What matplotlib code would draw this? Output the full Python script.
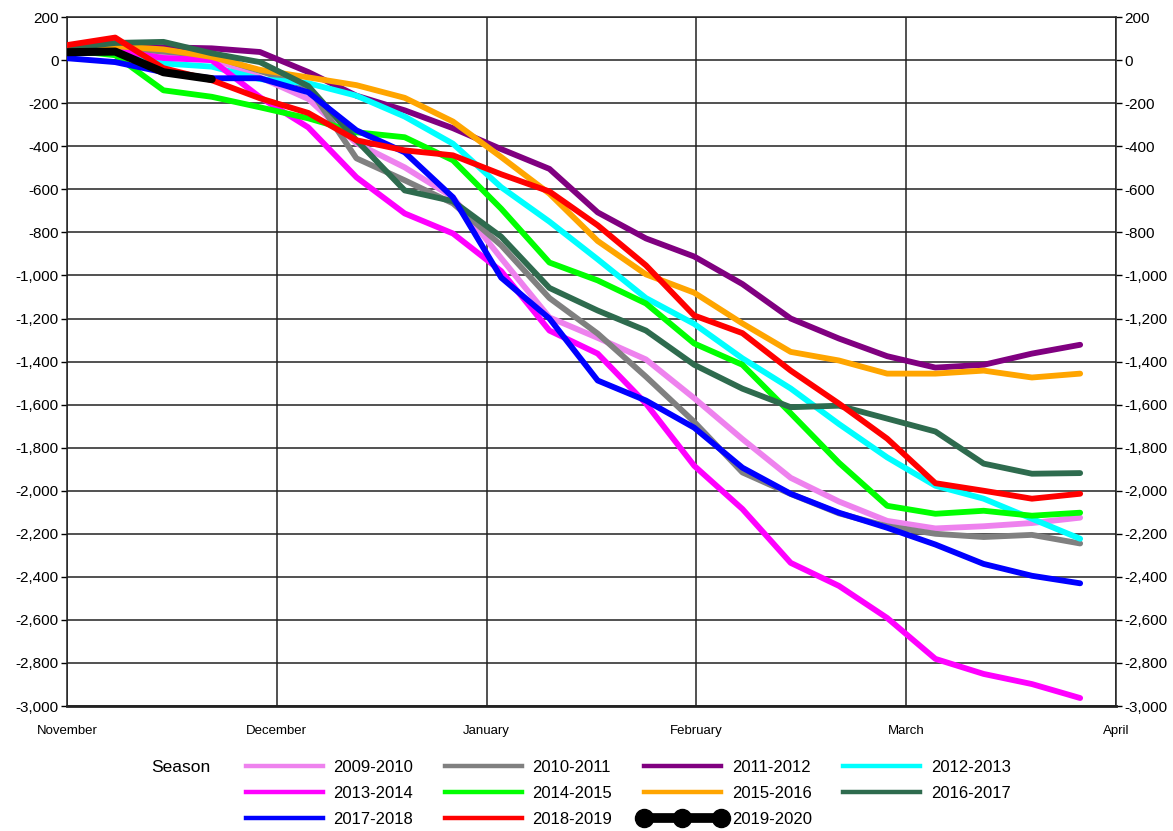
import numpy as np
import matplotlib
matplotlib.use('Agg')
import matplotlib.pyplot as plt
from matplotlib.ticker import FuncFormatter
from matplotlib.lines import Line2D

plt.rcParams['font.family'] = ['Liberation Sans', 'DejaVu Sans']

# weekly points, day offset from 1 November
weeks = np.arange(22)
days = weeks * 7
month_len = 30.44
months = ['November', 'December', 'January', 'February', 'March', 'April']

s2009 = [45, 50, 30, 10, -80, -180, -386, -498, -637, -920, -1195, -1290, -1390, -1570, -1760, -1940, -2050, -2140, -2175, -2165, -2150, -2125]
s2010 = [45, 60, 40, 20, -50, -124, -456, -558, -665, -860, -1105, -1270, -1470, -1680, -1915, -2015, -2105, -2165, -2200, -2215, -2205, -2245]
s2011 = [50, 55, 60, 55, 38, -55, -165, -233, -316, -413, -505, -707, -828, -912, -1040, -1200, -1293, -1375, -1428, -1415, -1363, -1322]
s2012 = [30, 38, -15, -30, -88, -107, -165, -262, -388, -590, -750, -925, -1105, -1225, -1385, -1525, -1690, -1845, -1977, -2037, -2130, -2223]
s2013 = [45, 45, 10, 0, -172, -312, -544, -712, -805, -980, -1256, -1363, -1595, -1884, -2085, -2335, -2442, -2591, -2781, -2851, -2898, -2963]
s2014 = [47, 23, -140, -170, -219, -270, -335, -358, -465, -690, -940, -1023, -1130, -1316, -1415, -1640, -1870, -2070, -2107, -2093, -2116, -2102]
s2015 = [55, 65, 50, 15, -45, -80, -116, -175, -285, -450, -620, -840, -995, -1080, -1223, -1355, -1395, -1456, -1456, -1442, -1474, -1456]
s2016 = [55, 80, 85, 32, -9, -120, -372, -605, -655, -820, -1058, -1163, -1256, -1415, -1526, -1612, -1605, -1665, -1725, -1874, -1921, -1918]
s2017 = [9, -9, -56, -84, -84, -149, -326, -428, -637, -1010, -1200, -1488, -1581, -1707, -1893, -2014, -2102, -2172, -2250, -2340, -2395, -2430]
s2018 = [70, 105, -37, -93, -177, -245, -372, -419, -442, -530, -610, -767, -953, -1186, -1268, -1442, -1595, -1758, -1965, -2000, -2037, -2014]
s2019 = [37, 40, -56, -88]

labels = ['2009-2010', '2010-2011', '2011-2012', '2012-2013', '2013-2014', '2014-2015',
          '2015-2016', '2016-2017', '2017-2018', '2018-2019', '2019-2020']
colors = ['#ee82ee', '#808080', '#800080', '#00ffff', '#ff00ff', '#00ff00',
          '#ffa500', '#2e6b4e', '#0000ff', '#ff0000', '#000000']
series = [s2009, s2010, s2011, s2012, s2013, s2014, s2015, s2016, s2017, s2018, s2019]

fig = plt.figure(figsize=(11.73, 8.31), dpi=100)
ax = fig.add_axes([0.0571, 0.1504, 0.8943, 0.829])

handles = {}
for lab, col, vals in zip(labels, colors, series):
    x = days[:len(vals)]
    if lab == '2019-2020':
        ax.plot(x, vals, color=col, lw=5.8, solid_capstyle='round', zorder=4)
        # legend shows the series with large round markers
        handles[lab] = Line2D([], [], color=col, lw=7, marker='o', ms=13)
    else:
        ax.plot(x, vals, color=col, lw=4.2, solid_capstyle='round', zorder=3)
        handles[lab] = Line2D([], [], color=col, lw=3.2)

ax.set_xlim(0, 5 * month_len)
ax.set_ylim(-3000, 200)
ax.set_xticks(np.arange(6) * month_len)
ax.set_xticklabels(months, fontsize=9.5)
ax.set_yticks(np.arange(-3000, 201, 200))
ax.yaxis.set_major_formatter(FuncFormatter(lambda v, p: f'{v:,.0f}'))
ax.tick_params(axis='x', length=0, pad=14)
ax.tick_params(axis='y', direction='out', length=4, width=1, labelsize=11,
               pad=2, right=True, labelright=True)
ax.grid(True, color='#222222', lw=1.1)
ax.set_axisbelow(True)
for side in ['left', 'right', 'top']:
    ax.spines[side].set_color('#222222')
    ax.spines[side].set_linewidth(1.1)
ax.spines['bottom'].set_color('#222222')
ax.spines['bottom'].set_linewidth(2)

# legend, filled column-wise so rows read chronologically
order = ['2009-2010', '2013-2014', '2017-2018',
         '2010-2011', '2014-2015', '2018-2019',
         '2011-2012', '2015-2016', '2019-2020',
         '2012-2013', '2016-2017']
leg = fig.legend([handles[k] for k in order], order, ncol=4, loc='upper left',
                 bbox_to_anchor=(0.2055, 0.0855), frameon=False, fontsize=12,
                 handlelength=5.2, handletextpad=0.35, columnspacing=1.6,
                 labelspacing=0.66, borderaxespad=0, borderpad=0, numpoints=3)
fig.text(151 / 1173, 1 - 767 / 831, 'Season', fontsize=12.5, va='center', ha='left')

fig.savefig('out.png', dpi=100)
